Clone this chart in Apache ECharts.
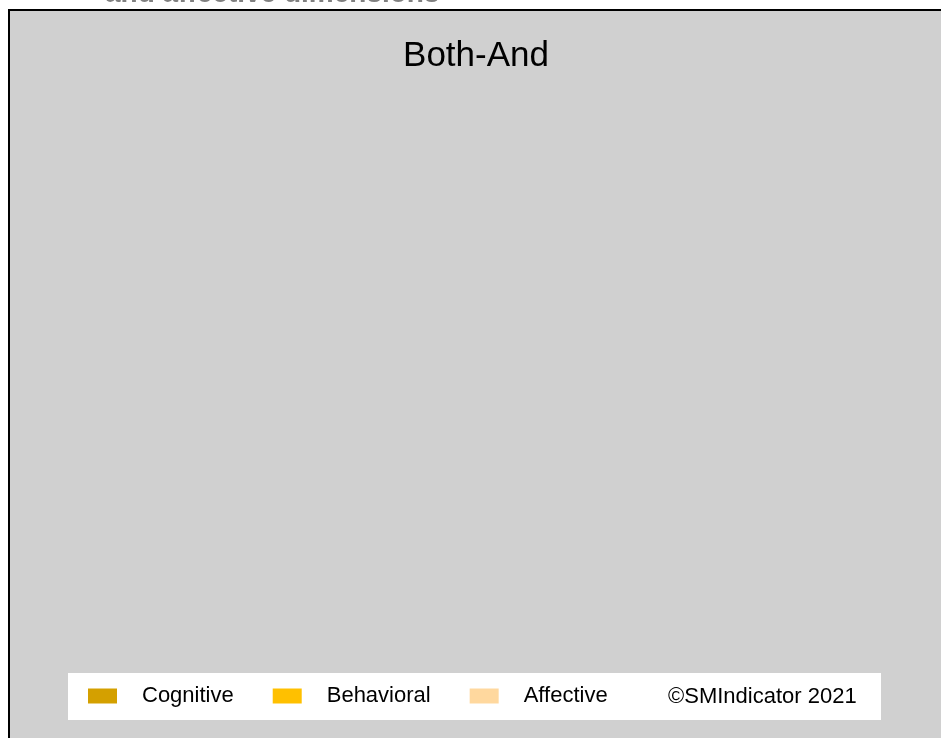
<!DOCTYPE html>
<html>
<head>
<meta charset="utf-8">
<script src="https://cdn.jsdelivr.net/npm/echarts@6/dist/echarts.min.js"></script>
<style>html,body{margin:0;padding:0;background:#fff;}#c{width:941px;height:738px;}</style>
</head>
<body>
<div id="c"></div>
<script>
// Data (the reference panel shows no plotted values)
const categories = [];
const seriesNames = ['Cognitive', 'Behavioral', 'Affective'];
const cognitiveValues = [];
const behavioralValues = [];
const affectiveValues = [];
const seriesColors = ['#d4a000', '#ffc000', '#ffd89e'];
const titleText = 'Both-And';
const headerText = 'and affective dimensions';
const creditText = '\u00A9SMIndicator 2021';

const chart = echarts.init(document.getElementById('c'), null, {renderer: 'canvas'});
const values = [cognitiveValues, behavioralValues, affectiveValues];
const FONT = '"Liberation Sans", Arial, sans-serif';

chart.setOption({
  backgroundColor: '#ffffff',
  animation: false,
  title: {
    text: titleText,
    left: 471, textAlign: 'center', top: 34,
    textStyle: {fontFamily: FONT, fontSize: 35, fontWeight: 'normal', color: '#000'}
  },
  legend: {
    data: seriesNames,
    left: 83, top: 680,
    itemWidth: 29, itemHeight: 15, itemGap: 39,
    icon: 'rect',
    textStyle: {fontFamily: FONT, fontSize: 22, color: '#000', padding: [0, 0, 0, 20]}
  },
  grid: {left: 60, right: 60, top: 100, bottom: 90},
  xAxis: {type: 'category', data: categories, show: false},
  yAxis: {type: 'value', show: false},
  series: seriesNames.map((n, i) => ({
    name: n, type: 'bar', data: values[i], itemStyle: {color: seriesColors[i]}
  })),
  graphic: [
    {type: 'text', left: 105, top: -20, z: -10, style: {text: headerText, fill: '#808080', font: 'bold 28px ' + FONT}},
    {type: 'rect', shape: {x: 9, y: 10, width: 1000, height: 1000}, z: -20,
      style: {fill: '#d0d0d0', stroke: '#000', lineWidth: 2}},
    {type: 'rect', shape: {x: 68, y: 673, width: 813, height: 47}, z: -15,
      style: {fill: '#ffffff'}},
    {type: 'text', x: 668, y: 697, z: 10, style: {text: creditText, fill: '#000', font: '22px ' + FONT, textVerticalAlign: 'middle'}}
  ]
});
</script>
</body>
</html>
